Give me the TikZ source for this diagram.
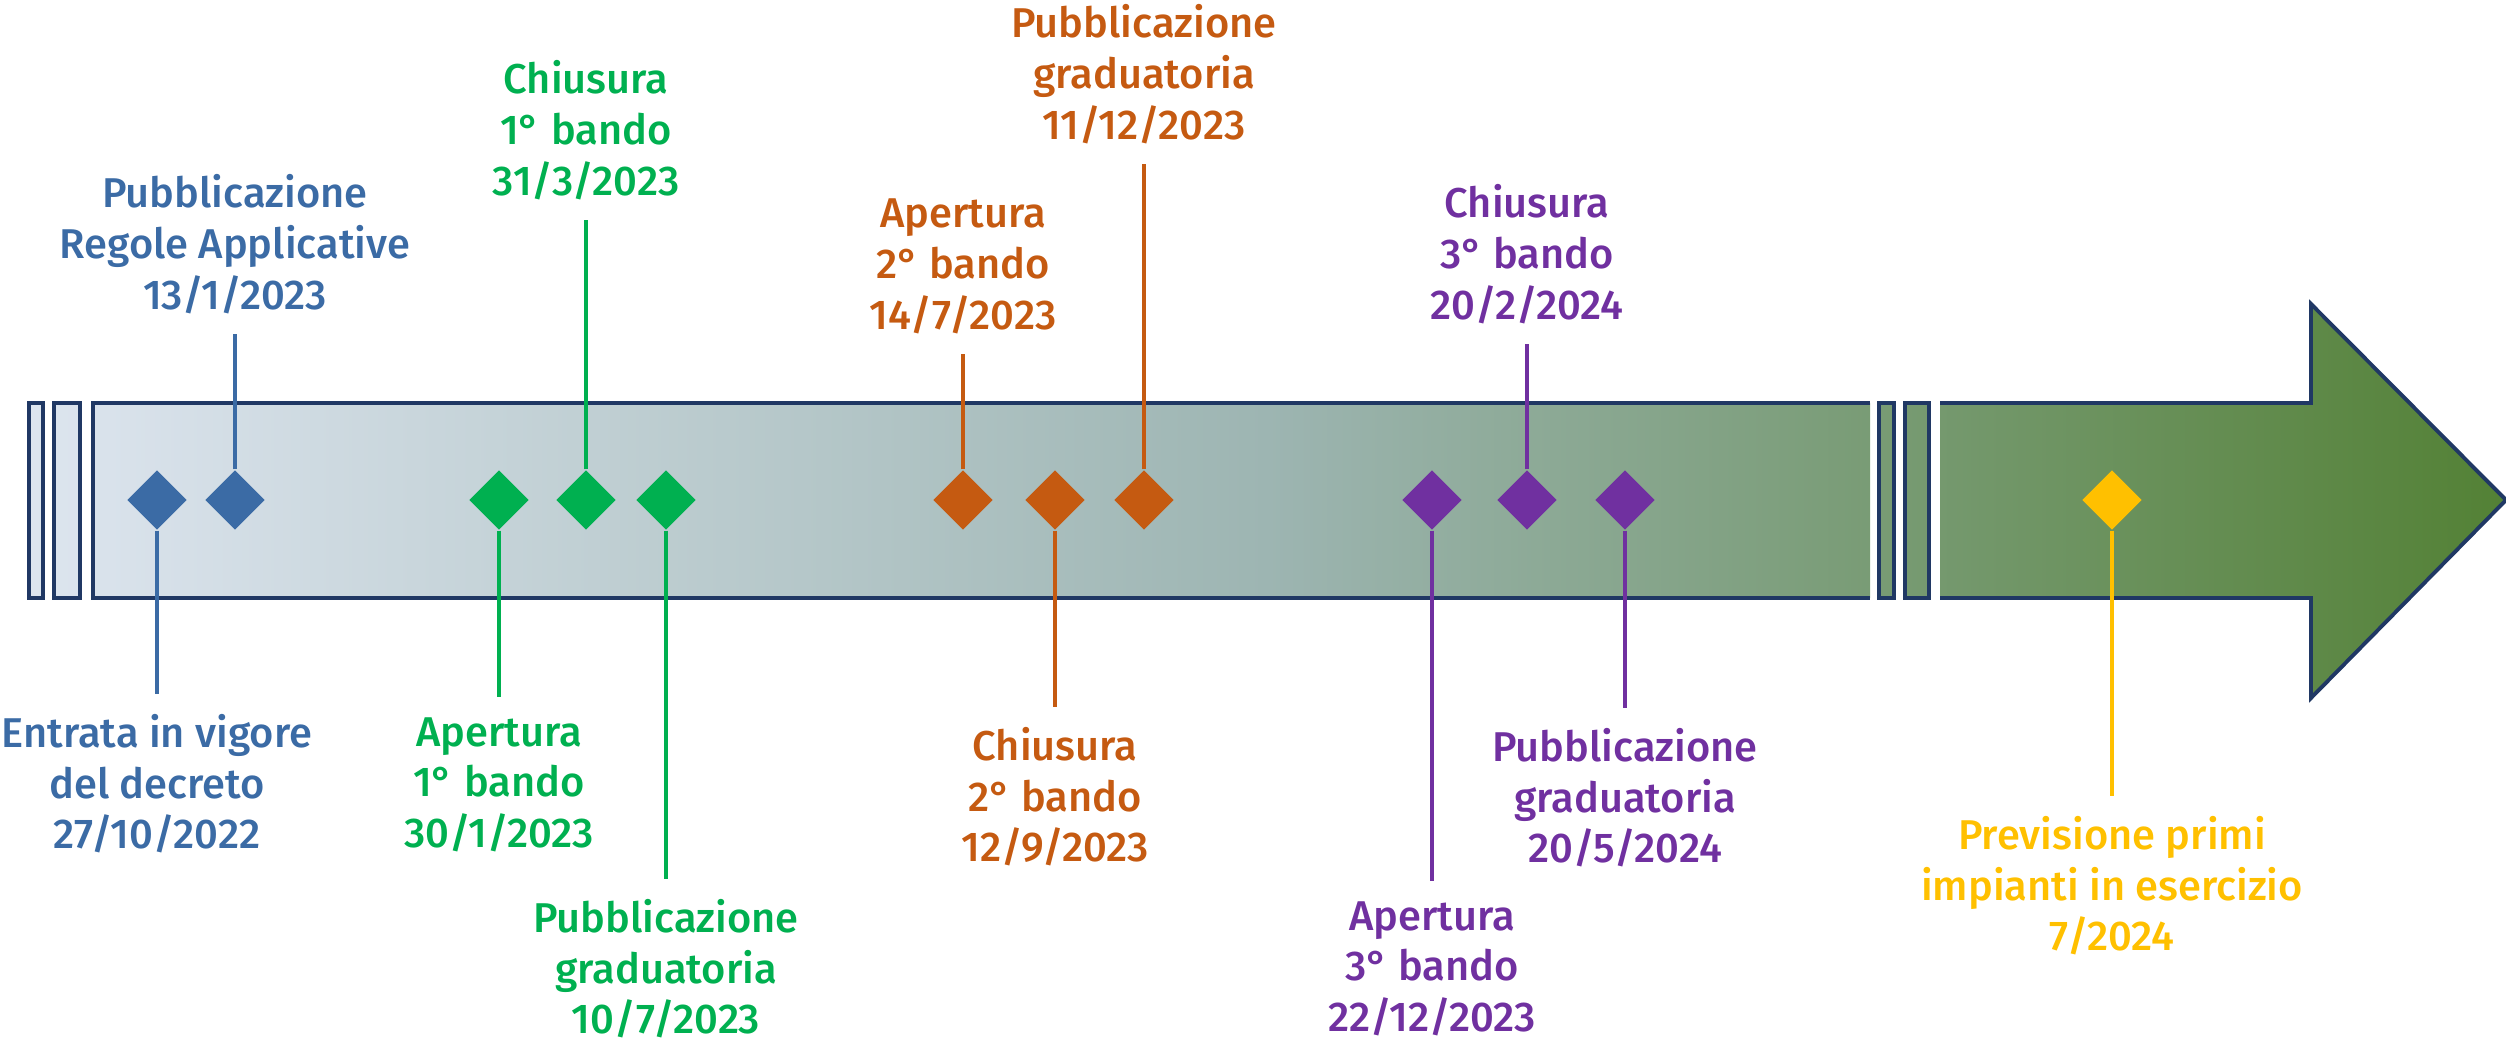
\documentclass[tikz,border=0pt]{standalone}
\usepackage{fontspec}
\setmainfont{Fira Sans Medium}
\usetikzlibrary{positioning,shapes.geometric}

\definecolor{mblue}{HTML}{3B6BA5}
\definecolor{mgreen}{HTML}{00B050}
\definecolor{morange}{HTML}{C55A11}
\definecolor{mpurple}{HTML}{7030A0}
\definecolor{myellow}{HTML}{FFC000}
\definecolor{barline}{HTML}{203864}
\definecolor{barleft}{HTML}{DDE5EF}
\definecolor{barmid}{HTML}{9DB5B2}
\definecolor{barright}{HTML}{538135}

\tikzset{
  milestone/.style={diamond, fill=#1, minimum width=0.6cm, minimum height=0.6cm, inner sep=0pt},
  event/.style={text=#1, align=center, font=\fontsize{11.85}{14.4}\selectfont, inner xsep=0pt, inner ysep=0.2cm},
  stem/.style={draw=#1, line width=1.35pt},
  barborder/.style={draw=barline, line width=1.1pt, line join=miter}
}

\begin{document}
\begin{tikzpicture}
\useasboundingbox (0,0) rectangle (25.06,10.45);

% timeline arrow with breaks
\shade[left color=barleft, right color=barright, middle color=barmid]
  (0.29,4.47) rectangle (0.43,6.42)
  (0.54,4.47) rectangle (0.80,6.42)
  (0.93,4.47) rectangle (18.70,6.42)
  (18.79,4.47) rectangle (18.94,6.42)
  (19.05,4.47) rectangle (19.29,6.42)
  (19.40,6.42) -- (23.11,6.42) -- (23.11,7.41) -- (25.06,5.45) -- (23.11,3.47) -- (23.11,4.47) -- (19.40,4.47) -- cycle;
\draw[barborder] (0.29,4.47) rectangle (0.43,6.42)
  (0.54,4.47) rectangle (0.80,6.42)
  (18.79,4.47) rectangle (18.94,6.42)
  (19.05,4.47) rectangle (19.29,6.42);
\draw[barborder] (18.70,6.42) -- (0.93,6.42) -- (0.93,4.47) -- (18.70,4.47);
\draw[barborder] (19.40,6.42) -- (23.11,6.42) -- (23.11,7.41) -- (25.06,5.45) -- (23.11,3.47) -- (23.11,4.47) -- (19.40,4.47);

% milestones
\node[milestone=mblue] (b1) at (1.57,5.45) {};
\node[milestone=mblue] (b2) at (2.35,5.45) {};
\node[milestone=mgreen] (g1) at (4.99,5.45) {};
\node[milestone=mgreen] (g2) at (5.86,5.45) {};
\node[milestone=mgreen] (g3) at (6.66,5.45) {};
\node[milestone=morange] (o1) at (9.63,5.45) {};
\node[milestone=morange] (o2) at (10.55,5.45) {};
\node[milestone=morange] (o3) at (11.44,5.45) {};
\node[milestone=mpurple] (p1) at (14.32,5.45) {};
\node[milestone=mpurple] (p2) at (15.27,5.45) {};
\node[milestone=mpurple] (p3) at (16.25,5.45) {};
\node[milestone=myellow] (y1) at (21.12,5.45) {};

% labels
\node[event=mblue, below=1.63cm of b1] (lb1) {Entrata in vigore\\del decreto\\27/10/2022};
\node[event=mblue, above=1.35cm of b2] (lb2) {Pubblicazione\\Regole Applicative\\13/1/2023};
\node[event=mgreen, below=1.66cm of g1] (lg1) {Apertura\\1° bando\\30/1/2023};
\node[event=mgreen, above=2.49cm of g2] (lg2) {Chiusura\\1° bando\\31/3/2023};
\node[event=mgreen, below=3.48cm of g3] (lg3) {Pubblicazione\\graduatoria\\10/7/2023};
\node[event=morange, above=1.15cm of o1] (lo1) {Apertura\\2° bando\\14/7/2023};
\node[event=morange, below=1.76cm of o2] (lo2) {Chiusura\\2° bando\\12/9/2023};
\node[event=morange, above=3.05cm of o3] (lo3) {Pubblicazione\\graduatoria\\11/12/2023};
\node[event=mpurple, below=3.50cm of p1] (lp1) {Apertura\\3° bando\\22/12/2023};
\node[event=mpurple, above=1.25cm of p2] (lp2) {Chiusura\\3° bando\\20/2/2024};
\node[event=mpurple, below=1.77cm of p3] (lp3) {Pubblicazione\\graduatoria\\20/5/2024};
\node[event=myellow, below=2.65cm of y1] (ly1) {Previsione primi\\impianti in esercizio\\7/2024};

% stems
\path[stem=mblue] (b1) edge (lb1) (b2) edge (lb2);
\path[stem=mgreen] (g1) edge (lg1) (g2) edge (lg2) (g3) edge (lg3);
\path[stem=morange] (o1) edge (lo1) (o2) edge (lo2) (o3) edge (lo3);
\path[stem=mpurple] (p1) edge (lp1) (p2) edge (lp2) (p3) edge (lp3);
\path[stem=myellow] (y1) edge (ly1);
\end{tikzpicture}
\end{document}
